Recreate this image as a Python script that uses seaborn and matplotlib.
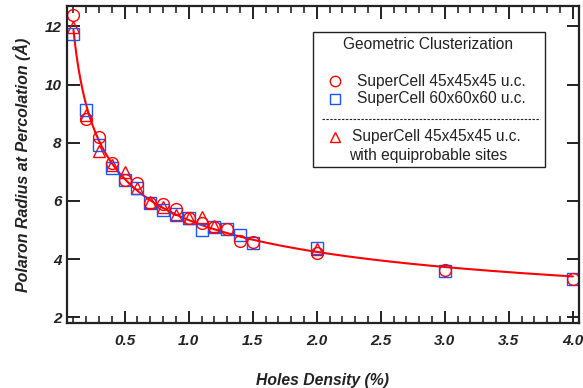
"""polaron radius at percolation vs holes density"""

import numpy as np
import pandas as pd
import matplotlib.pyplot as plt
from matplotlib.lines import Line2D
from matplotlib.patches import Rectangle
import seaborn as sns

# values
density = [0.1, 0.2, 0.3, 0.4, 0.5, 0.6, 0.7, 0.8, 0.9, 1.0, 1.1, 1.2, 1.3, 1.4, 1.5, 2.0, 3.0, 4.0]
radius_45 = [12.4, 8.8, 8.2, 7.3, 6.7, 6.6, 5.93, 5.9, 5.72, 5.4, 5.24, 5.11, 5.03, 4.63, 4.58, 4.2, 3.62, 3.31]
radius_60 = [11.72, 9.12, 7.93, 7.12, 6.72, 6.45, 5.93, 5.69, 5.56, 5.41, 5.0, 5.1, 5.03, 4.83, 4.55, 4.37, 3.6, 3.3]
density_eq = [0.1, 0.2, 0.3, 0.4, 0.5, 0.6, 0.7, 0.8, 0.9, 1.0, 1.1, 1.2, 2.0]
radius_eq = [11.96, 8.95, 7.7, 7.24, 7.0, 6.45, 5.97, 5.8, 5.52, 5.4, 5.45, 5.15, 4.34]

x_ticks = [0.5, 1.0, 1.5, 2.0, 2.5, 3.0, 3.5, 4.0]
y_ticks = [2, 4, 6, 8, 10, 12]


def power_fit(x, y):
    """fit y = c + a * x**b by scanning the offset c"""
    x = np.asarray(x)
    y = np.asarray(y)
    best = None
    for c in np.linspace(-4, 3, 141):
        b, loga = np.polyfit(np.log(x), np.log(y - c), 1)
        err = np.sum((c + np.exp(loga) * x ** b - y) ** 2)
        if best is None or err < best[0]:
            best = (err, c, np.exp(loga), b)
    return best[1:]


sns.set_theme(style="ticks")
plt.rcParams["font.family"] = ["Liberation Sans", "DejaVu Sans"]

fig = plt.figure(figsize=(5.83, 3.88), dpi=100)
ax = fig.add_axes([0.115, 0.1675, 0.878, 0.8171])

all_x = density + density + density_eq
all_y = radius_45 + radius_60 + radius_eq
c, a, b = power_fit(all_x, all_y)
fit_x = np.linspace(0.1, 4.0, 300)
fit_df = pd.DataFrame({"x": fit_x, "y": c + a * fit_x ** b})
sns.lineplot(data=fit_df, x="x", y="y", color="#ff0000", lw=1.5, ax=ax)

common = dict(linestyle="none", markerfacecolor="none", markersize=8.5, markeredgewidth=1.0, ax=ax)
sns.lineplot(x=density_eq, y=radius_eq, marker="^", markeredgecolor="#ff0000", **common)
sns.lineplot(x=density, y=radius_60, marker="s", markeredgecolor="#1a55ff", **common)
sns.lineplot(x=density, y=radius_45, marker="o", markeredgecolor="#ff0000", **common)

ax.set_xlim(0.05, 4.047)
ax.set_ylim(1.8, 12.7)
ax.set_xticks(x_ticks)
ax.set_xticks(np.arange(0.1, 4.05, 0.1), minor=True)
ax.set_yticks(y_ticks)
ax.set_xticklabels([f"{v:.1f}" for v in x_ticks])
ax.tick_params(axis="both", which="major", direction="in", length=9, width=1.4,
               top=True, right=True, labelsize=11, colors="#222222")
ax.tick_params(axis="x", which="major", pad=8)
ax.tick_params(axis="y", which="major", pad=4)
ax.tick_params(axis="x", which="minor", direction="in", length=5, width=1.2, top=True)
for lab in ax.get_xticklabels() + ax.get_yticklabels():
    lab.set_fontweight("bold")
    lab.set_fontstyle("italic")
for sp in ax.spines.values():
    sp.set_visible(True)
    sp.set_linewidth(1.6)
    sp.set_color("#222222")

ax.set_xlabel("Holes Density (%)", fontsize=11.3, fontweight="bold", fontstyle="italic",
              color="#222222", labelpad=18)
ax.set_ylabel("Polaron Radius at Percolation (Å)", fontsize=11.5, fontweight="bold",
              fontstyle="italic", color="#222222", labelpad=10)

# hand-built legend box
tr = ax.transAxes
ax.add_patch(Rectangle((0.480, 0.492), 0.454, 0.426, transform=tr, fill=False,
                       edgecolor="#222222", lw=1.0, zorder=5))
txt = dict(transform=tr, fontsize=11.2, color="#222222", va="center", zorder=6)
ax.text(0.705, 0.877, "Geometric Clusterization", ha="center", **txt)
ax.add_line(Line2D([0.523], [0.763], transform=tr, marker="o", mfc="none", mec="#ff0000", ms=7.5, ls="none"))
ax.text(0.566, 0.763, "SuperCell 45x45x45 u.c.", ha="left", **txt)
ax.add_line(Line2D([0.523], [0.707], transform=tr, marker="s", mfc="none", mec="#1a55ff", ms=7, ls="none"))
ax.text(0.566, 0.707, "SuperCell 60x60x60 u.c.", ha="left", **txt)
ax.add_line(Line2D([0.498, 0.924], [0.644, 0.644], transform=tr, color="#222222", lw=0.8,
                   ls=(0, (2.2, 1.3)), zorder=6))
ax.add_line(Line2D([0.523], [0.587], transform=tr, marker="^", mfc="none", mec="#ff0000", ms=7, ls="none"))
ax.text(0.557, 0.587, "SuperCell 45x45x45 u.c.", ha="left", **txt)
ax.text(0.705, 0.527, "with equiprobable sites", ha="center", **txt)

fig.savefig("out.png", dpi=100)
plt.close(fig)
